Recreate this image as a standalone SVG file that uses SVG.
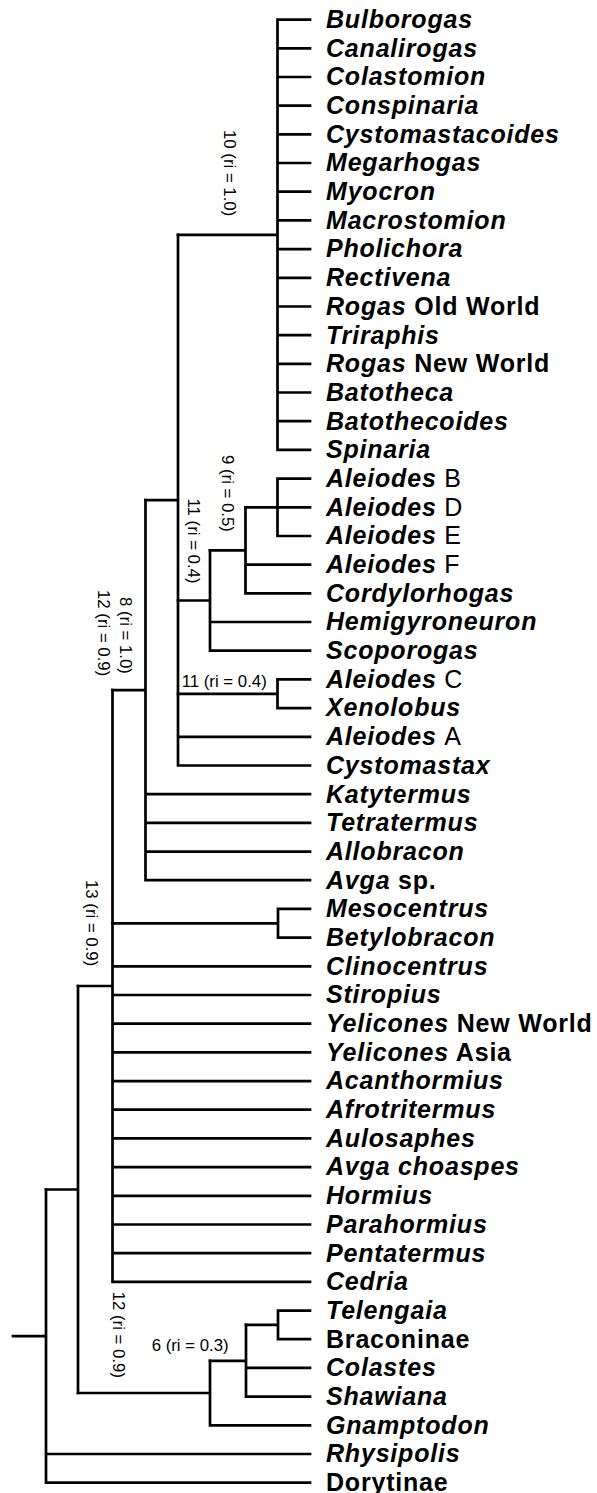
<svg xmlns="http://www.w3.org/2000/svg" width="597" height="1493" viewBox="0 0 597 1493">
<style>
.e{stroke:#000;stroke-width:2.7;fill:none;stroke-linecap:square}
.t{font-family:"Liberation Sans",Arial,sans-serif;font-size:25px;font-weight:bold;letter-spacing:0.8px;fill:#000}
.i{font-style:italic}
.n{font-weight:normal}
.l{font-family:"Liberation Sans",Arial,sans-serif;font-size:16.8px;fill:#000}
</style>
<rect width="597" height="1493" fill="#fff"/>
<g id="connectors">
<path class="e" d="M277.5 19.6V449.9M277.5 19.6H310M277.5 48.3H310M277.5 77H310M277.5 105.7H310M277.5 134.4H310M277.5 163H310M277.5 191.7H310M277.5 220.4H310M277.5 249.1H310M277.5 277.8H310M277.5 306.5H310M277.5 335.2H310M277.5 363.9H310M277.5 392.5H310M277.5 421.2H310M277.5 449.9H310M178 234.8H277.5"/>
<path class="e" d="M277.5 478.6V536M277.5 478.6H310M245.5 507.3H310M277.5 536H310"/>
<path class="e" d="M245.5 507.3V593.4M245.5 564.7H310M245.5 593.4H310M210 550.3H245.5"/>
<path class="e" d="M210 550.3V650.7M210 622H310M210 650.7H310M178 600.5H210"/>
<path class="e" d="M277.5 679.4V708.1M277.5 679.4H310M277.5 708.1H310M178 693.8H277.5"/>
<path class="e" d="M178 234.8V765.5M178 736.8H310M178 765.5H310M145.5 500.1H178"/>
<path class="e" d="M145.5 500.1V880.2M145.5 794.2H310M145.5 822.9H310M145.5 851.6H310M145.5 880.2H310M112.5 690.2H145.5"/>
<path class="e" d="M278 908.9V937.6M278 908.9H310M278 937.6H310M112.5 923.3H278"/>
<path class="e" d="M112.5 690.2V1281.9M112.5 966.3H310M112.5 995H310M112.5 1023.7H310M112.5 1052.4H310M112.5 1081.1H310M112.5 1109.7H310M112.5 1138.4H310M112.5 1167.1H310M112.5 1195.8H310M112.5 1224.5H310M112.5 1253.2H310M112.5 1281.9H310M78 986H112.5"/>
<path class="e" d="M278 1310.6V1339.2M278 1310.6H310M278 1339.2H310M246 1324.9H278"/>
<path class="e" d="M246 1324.9V1396.6M246 1367.9H310M246 1396.6H310M210 1360.8H246"/>
<path class="e" d="M210 1360.8V1425.3M210 1425.3H310M78 1393H210"/>
<path class="e" d="M78 986V1393M46 1189.5H78"/>
<path class="e" d="M46 1189.5V1482.7M46 1454H310M46 1482.7H310M13 1336.1H46"/>
</g>
<g id="labels">
<text class="l" transform="translate(223.5,130) rotate(90)">10 (ri = 1.0)</text>
<text class="l" transform="translate(221.5,455) rotate(90)">9 (ri = 0.5)</text>
<text class="l" transform="translate(187.5,498.5) rotate(90)">11 (ri = 0.4)</text>
<text class="l" transform="translate(119.5,597) rotate(90)">8 (ri = 1.0)</text>
<text class="l" transform="translate(97.5,590) rotate(90)">12 (ri = 0.9)</text>
<text class="l" transform="translate(85.5,880) rotate(90)">13 (ri = 0.9)</text>
<text class="l" transform="translate(113,1291.7) rotate(90)">12 (ri = 0.9)</text>
<text class="l" x="181.7" y="687.3">11 (ri = 0.4)</text>
<text class="l" x="151.7" y="1350.7">6 (ri = 0.3)</text>
</g>
<g id="taxa">
<text id="t1" class="t i" x="326" y="27.9">Bulborogas</text>
<text id="t2" class="t i" x="326" y="56.6">Canalirogas</text>
<text id="t3" class="t i" x="326" y="85.3">Colastomion</text>
<text id="t4" class="t i" x="326" y="114">Conspinaria</text>
<text id="t5" class="t i" x="326" y="142.7">Cystomastacoides</text>
<text id="t6" class="t i" x="326" y="171.3">Megarhogas</text>
<text id="t7" class="t i" x="326" y="200">Myocron</text>
<text id="t8" class="t i" x="326" y="228.7">Macrostomion</text>
<text id="t9" class="t i" x="326" y="257.4">Pholichora</text>
<text id="t10" class="t i" x="326" y="286.1">Rectivena</text>
<text id="t11" class="t" x="326" y="314.8"><tspan class="i">Rogas</tspan> Old World</text>
<text id="t12" class="t i" x="326" y="343.5">Triraphis</text>
<text id="t13" class="t" x="326" y="372.2"><tspan class="i">Rogas</tspan> New World</text>
<text id="t14" class="t i" x="326" y="400.8">Batotheca</text>
<text id="t15" class="t i" x="326" y="429.5">Batothecoides</text>
<text id="t16" class="t i" x="326" y="458.2">Spinaria</text>
<text id="t17" class="t" x="326" y="486.9"><tspan class="i">Aleiodes</tspan> <tspan class="n">B</tspan></text>
<text id="t18" class="t" x="326" y="515.6"><tspan class="i">Aleiodes</tspan> <tspan class="n">D</tspan></text>
<text id="t19" class="t" x="326" y="544.3"><tspan class="i">Aleiodes</tspan> <tspan class="n">E</tspan></text>
<text id="t20" class="t" x="326" y="573"><tspan class="i">Aleiodes</tspan> <tspan class="n">F</tspan></text>
<text id="t21" class="t i" x="326" y="601.7">Cordylorhogas</text>
<text id="t22" class="t i" x="326" y="630.3">Hemigyroneuron</text>
<text id="t23" class="t i" x="326" y="659">Scoporogas</text>
<text id="t24" class="t" x="326" y="687.7"><tspan class="i">Aleiodes</tspan> <tspan class="n">C</tspan></text>
<text id="t25" class="t i" x="326" y="716.4">Xenolobus</text>
<text id="t26" class="t" x="326" y="745.1"><tspan class="i">Aleiodes</tspan> <tspan class="n">A</tspan></text>
<text id="t27" class="t i" x="326" y="773.8">Cystomastax</text>
<text id="t28" class="t i" x="326" y="802.5">Katytermus</text>
<text id="t29" class="t i" x="326" y="831.2">Tetratermus</text>
<text id="t30" class="t i" x="326" y="859.8">Allobracon</text>
<text id="t31" class="t" x="326" y="888.5"><tspan class="i">Avga</tspan> sp.</text>
<text id="t32" class="t i" x="326" y="917.2">Mesocentrus</text>
<text id="t33" class="t i" x="326" y="945.9">Betylobracon</text>
<text id="t34" class="t i" x="326" y="974.6">Clinocentrus</text>
<text id="t35" class="t i" x="326" y="1003.3">Stiropius</text>
<text id="t36" class="t" x="326" y="1032"><tspan class="i">Yelicones</tspan> New World</text>
<text id="t37" class="t" x="326" y="1060.7"><tspan class="i">Yelicones</tspan> Asia</text>
<text id="t38" class="t i" x="326" y="1089.4">Acanthormius</text>
<text id="t39" class="t i" x="326" y="1118">Afrotritermus</text>
<text id="t40" class="t i" x="326" y="1146.7">Aulosaphes</text>
<text id="t41" class="t i" x="326" y="1175.4">Avga choaspes</text>
<text id="t42" class="t i" x="326" y="1204.1">Hormius</text>
<text id="t43" class="t i" x="326" y="1232.8">Parahormius</text>
<text id="t44" class="t i" x="326" y="1261.5">Pentatermus</text>
<text id="t45" class="t i" x="326" y="1290.2">Cedria</text>
<text id="t46" class="t i" x="326" y="1318.9">Telengaia</text>
<text id="t47" class="t" x="326" y="1347.5">Braconinae</text>
<text id="t48" class="t i" x="326" y="1376.2">Colastes</text>
<text id="t49" class="t i" x="326" y="1404.9">Shawiana</text>
<text id="t50" class="t i" x="326" y="1433.6">Gnamptodon</text>
<text id="t51" class="t i" x="326" y="1462.3">Rhysipolis</text>
<text id="t52" class="t" x="326" y="1491">Dorytinae</text>
</g>
</svg>
